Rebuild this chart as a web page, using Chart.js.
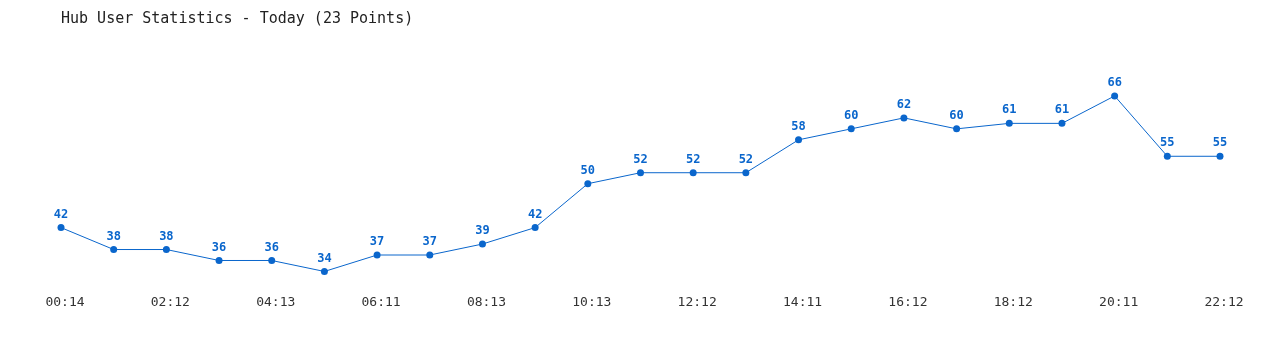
<!DOCTYPE html>
<html>
<head>
<meta charset="utf-8">
<script src="https://cdn.jsdelivr.net/npm/chart.js@4/dist/chart.umd.min.js"></script>
<style>
  html, body { margin: 0; padding: 0; background: #fff; }
  #wrap { width: 1280px; height: 350px; position: relative; }
</style>
</head>
<body>
<div id="wrap"><canvas id="hubChart"></canvas></div>
<script>
// times of each sample (only every other one is shown on the axis)
const times = ['00:14', '01:13', '02:12', '03:12', '04:13', '05:12', '06:11', '07:12',
  '08:13', '09:13', '10:13', '11:12', '12:12', '13:12', '14:11', '15:11', '16:12',
  '17:12', '18:12', '19:12', '20:11', '21:12', '22:12'];
const users = [42, 38, 38, 36, 36, 34, 37, 37, 39, 42, 50, 52, 52, 52, 58, 60, 62, 60, 61, 61, 66, 55, 55];

const blue = '#0a66cc';

// small value labels above each point (no datalabels plugin offline)
const pointLabels = {
  id: 'pointLabels',
  afterDatasetsDraw(chart) {
    const ctx = chart.ctx;
    const meta = chart.getDatasetMeta(0);
    ctx.save();
    ctx.fillStyle = blue;
    ctx.font = 'bold 12px "DejaVu Sans Mono", monospace';
    ctx.textAlign = 'center';
    ctx.textBaseline = 'middle';
    meta.data.forEach((pt, i) => {
      ctx.fillText(users[i], pt.x, pt.y - 13);
    });
    ctx.restore();
  }
};

new Chart(document.getElementById('hubChart').getContext('2d'), {
  type: 'line',
  data: {
    labels: times,
    datasets: [{
      data: users,
      borderColor: blue,
      backgroundColor: blue,
      borderWidth: 1,
      pointRadius: 3.5,
      pointBackgroundColor: blue,
      pointBorderWidth: 0,
      tension: 0
    }]
  },
  options: {
    responsive: true,
    maintainAspectRatio: false,
    animation: false,
    layout: { padding: { left: 61, right: 60, top: 0, bottom: 39 } },
    plugins: {
      legend: { display: false },
      tooltip: { enabled: false },
      title: {
        display: true,
        text: 'Hub User Statistics - Today (23 Points)',
        align: 'start',
        color: '#222',
        font: { family: '"DejaVu Sans Mono", monospace', size: 15, weight: 'normal' },
        padding: { top: 10, bottom: 46 }
      }
    },
    scales: {
      x: {
        offset: false,
        grid: { display: false, drawTicks: false },
        border: { display: false },
        ticks: {
          autoSkip: false,
          maxRotation: 0,
          padding: 1,
          labelOffset: 4,
          color: '#333',
          font: { family: '"DejaVu Sans Mono", monospace', size: 13 },
          callback: function (val, i) { return i % 2 === 0 ? times[i] : ''; }
        }
      },
      y: {
        display: false,
        min: 30,
        max: 70
      }
    }
  },
  plugins: [pointLabels]
});
</script>
</body>
</html>
